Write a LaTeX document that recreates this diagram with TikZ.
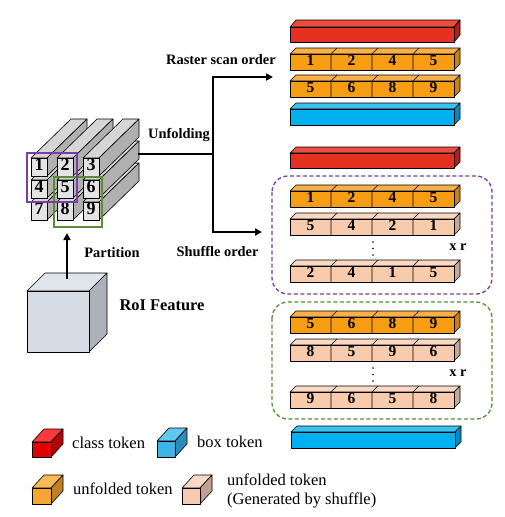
\documentclass[tikz,border=0pt]{standalone}
\usepackage{fontspec}
\setmainfont{Liberation Serif}
\usetikzlibrary{arrows.meta}
\definecolor{redF}{HTML}{E5311F}\definecolor{redT}{HTML}{EC4E3E}\definecolor{redS}{HTML}{B51E12}
\definecolor{orF}{HTML}{F79D14}\definecolor{orT}{HTML}{F8B048}\definecolor{orS}{HTML}{CC8012}
\definecolor{blF}{HTML}{00B0F0}\definecolor{blT}{HTML}{3AC2F2}\definecolor{blS}{HTML}{0088C0}
\definecolor{pkF}{HTML}{F8CBAD}\definecolor{pkT}{HTML}{FAD8C2}\definecolor{pkS}{HTML}{C4AA98}
\definecolor{grF}{HTML}{E4E4E4}\definecolor{grT}{HTML}{D6D6D6}\definecolor{grS}{HTML}{B0B0B0}
\definecolor{roF}{HTML}{D6DCE5}\definecolor{roT}{HTML}{E0E4EB}\definecolor{roS}{HTML}{ADB1B9}
\definecolor{lrF}{HTML}{E00000}\definecolor{lrT}{HTML}{FF3A3A}\definecolor{lrS}{HTML}{B00000}
\definecolor{lbF}{HTML}{3CB4E5}\definecolor{lbT}{HTML}{62C8F0}\definecolor{lbS}{HTML}{2A8DB8}
\definecolor{loF}{HTML}{F5A535}\definecolor{loT}{HTML}{F8BA55}\definecolor{loS}{HTML}{C08028}
\definecolor{lpF}{HTML}{F6CBB0}\definecolor{lpT}{HTML}{F8D9C6}\definecolor{lpS}{HTML}{C0A090}
\definecolor{purp}{HTML}{7A3DA8}
\definecolor{grn}{HTML}{5A8A3A}
\tikzset{
  bar/.style={draw=black, line width=0.6pt, line join=round},
  lbl/.style={font=\bfseries\fontsize{14.4}{16}\selectfont, inner sep=0pt, anchor=base},
  leg/.style={font=\fontsize{16.5}{19}\selectfont, inner sep=0pt, anchor=base west},
  num/.style={font=\bfseries\fontsize{15.5}{17}\selectfont, inner sep=0pt, text height=0.66em, text depth=0pt},
  gnum/.style={font=\bfseries\fontsize{18}{19}\selectfont, inner sep=0pt, text height=0.66em, text depth=0pt},
  conn/.style={line width=1.8pt},
  arr/.style={line width=1.8pt, -{Triangle[length=7pt,width=7pt]}},
  dbox/.style={line width=1.3pt, dash pattern=on 4pt off 2.5pt, rounded corners=16pt}
}
% #1 x, #2 y (front top-left), #3 w, #4 h, #5 dx, #6 dy (up), #7 colour prefix
\newcommand{\tokbar}[7]{%
  \filldraw[bar, fill=#7T] (#1,#2) -- ++(#5,-#6) -- ++(#3,0) -- ++(-#5,#6) -- cycle;
  \filldraw[bar, fill=#7S] (#1+#3,#2) -- ++(#5,-#6) -- ++(0,#4) -- ++(-#5,#6) -- cycle;
  \filldraw[bar, fill=#7F] (#1,#2) rectangle ++(#3,#4);
}
\newcommand{\numbar}[7]{%
  \tokbar{290}{#1}{164}{16}{6}{6}{#2}
  \foreach \xx in {331,372,413} {\draw[bar] (\xx,#1) -- ++(0,16) (\xx,#1) -- ++(6,-6);}
  \node[num] (#7a) at (310.5,#1+8.5) {#3};
  \node[num] (#7b) at (351.5,#1+8.5) {#4};
  \node[num] (#7c) at (392.5,#1+8.5) {#5};
  \node[num] (#7d) at (433.5,#1+8.5) {#6};
}
\begin{document}
\begin{tikzpicture}[x=1pt,y=-1pt]
\useasboundingbox[fill=white] (0,0) rectangle (505,517);

% ---- partitioned grid of bars
\foreach \c in {0,1,2}{
  \foreach \r in {2,1,0}{
    \pgfmathtruncatemacro{\nn}{3*\r+\c+1}
    \pgfmathsetmacro{\gx}{31+26*\c}
    \pgfmathsetmacro{\gy}{158+22*\r}
    \tokbar{\gx}{\gy}{16}{18}{40}{39}{gr}
    \node[gnum] (g\nn) at (\gx+8,\gy+9.5) {\nn};
  }
}
\draw[grn, line width=2pt] (54,177) rectangle (102,227);
\draw[purp, line width=2pt] (27,153) rectangle (77,202);

% ---- RoI cube
\tokbar{27}{291}{62}{61}{18}{18}{ro}
\coordinate (roitop) at (67,279);
\coordinate (gridbot) at (67,233);
\draw[arr] (roitop) -- (gridbot);
\node[lbl] (part) at (112,257) {Partition};
\node[lbl, font=\bfseries\fontsize{16.4}{18}\selectfont] (roi) at (162,310.5) {RoI Feature};

% ---- connectors
\coordinate (gridR) at (138,154);
\coordinate (junc) at (213,154);
\coordinate (rasEnd) at (273,77);
\coordinate (shuEnd) at (262,232);
\draw[conn] (gridR) -- (junc);
\draw[arr] (junc) |- (rasEnd);
\draw[arr] (junc) |- (shuEnd);
\node[lbl] (unf) at (179,138) {Unfolding};
\node[lbl] (ras) at (221,64.5) {Raster scan order};
\node[lbl] (shu) at (217.5,256) {Shuffle order};

% ---- raster scan tokens
\tokbar{290}{27}{164}{15}{6}{7}{red}
\numbar{54}{or}{1}{2}{4}{5}{ra}
\numbar{81}{or}{5}{6}{8}{9}{rb}
\tokbar{290}{109}{164}{16}{6}{6}{bl}

% ---- shuffle tokens
\tokbar{290}{153}{164}{15}{6}{6}{red}
\draw[purp, dbox] (272,176) rectangle (492,294);
\numbar{191}{or}{1}{2}{4}{5}{sa}
\numbar{219}{pk}{5}{4}{2}{1}{sb}
\foreach \yy in {242,248.5,255} \fill (373,\yy) circle (0.9);
\node[lbl] (xr1) at (458,250.5) {x r};
\numbar{266}{pk}{2}{4}{1}{5}{sc}

\draw[grn, dbox] (272,302) rectangle (492,419);
\numbar{317}{or}{5}{6}{8}{9}{ta}
\numbar{345}{pk}{8}{5}{9}{6}{tb}
\foreach \yy in {368,374.5,381} \fill (373,\yy) circle (0.9);
\node[lbl] (xr2) at (458,376.5) {x r};
\numbar{392}{pk}{9}{6}{5}{8}{tc}
\tokbar{291}{432}{164}{16}{6}{6}{bl}

% ---- legend
\tokbar{32}{442}{19}{15}{12}{13}{lr}
\node[leg] (lcls) at (72,448.5) {class token};
\tokbar{157}{441}{18}{16}{12}{13}{lb}
\node[leg] (lbox) at (197,447.5) {box token};
\tokbar{32}{488}{19}{16}{12}{13}{lo}
\node[leg] (lunf) at (73,494.5) {unfolded token};
\tokbar{182}{488}{18}{16}{12}{13}{lp}
\node[leg] (lshu1) at (227,485.5) {unfolded token};
\node[leg] (lshu2) at (227,504) {(Generated by shuffle)};
\end{tikzpicture}
\end{document}
